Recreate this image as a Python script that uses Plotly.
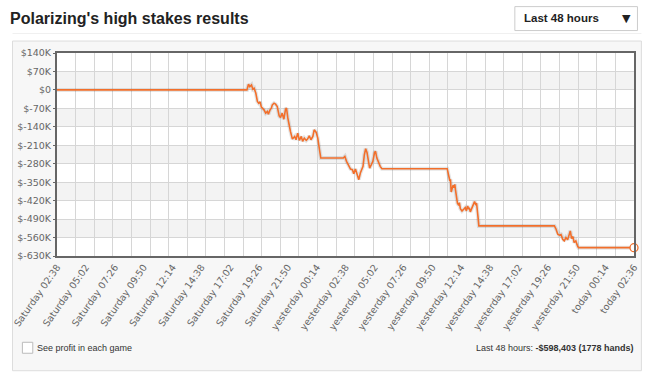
import plotly.graph_objects as go

# ---------------- data ----------------
hours = [0, 15.79, 15.92, 16.03, 16.17, 16.28, 16.39, 16.53, 16.66, 16.77, 16.88, 16.99,
         17.21, 17.35, 17.49, 17.57, 17.71, 17.82, 17.90, 18.04, 18.17, 18.31, 18.47,
         18.58, 18.72, 18.86, 19.00, 19.08, 19.19, 19.30, 19.41, 19.57, 19.76, 19.87,
         20.01, 20.15, 20.31, 20.42, 20.56, 20.72, 20.83, 20.97, 21.11, 21.27, 21.38,
         21.55, 21.68, 21.82, 21.93, 23.80, 23.93, 24.07, 24.26, 24.40, 24.56, 24.67,
         24.81, 24.95, 25.09, 25.22, 25.36, 25.44, 25.55, 25.66, 25.77, 25.88, 25.99,
         26.13, 26.26, 26.40, 26.48, 26.59, 26.73, 26.87, 27.01, 32.44, 32.57, 32.66,
         32.71, 32.77, 32.85, 32.93, 33.01, 33.07, 33.12, 33.20, 33.29, 33.40, 33.45,
         33.53, 33.67, 33.81, 33.94, 34.03, 34.14, 34.22, 34.27, 34.36, 34.44, 34.55,
         34.63, 34.71, 34.80, 34.88, 34.99, 35.07, 41.35, 41.49, 41.63, 41.76, 41.90,
         42.04, 42.17, 42.31, 42.45, 42.59, 42.67, 42.78, 42.89, 42.99, 43.13, 43.27,
         43.35, 47.967]
profit_k = [0, 0, 21.5, 12.6, 19, 2.6, 6.3, -12.6, -44, -50.4, -45.4, -65.5,
            -75.6, -88.2, -82, -92, -75.6, -69.3, -56.7, -50.4, -54.2, -63, -98.3,
            -104.6, -88.2, -111, -73, -69.3, -107, -138.7, -157.6, -186.6, -176.5, -189,
            -164, -191.6, -176.5, -195.4, -182.8, -191.6, -186.6, -174, -189, -176.5, -151.3,
            -161.4, -182.8, -227, -258.5, -258.5, -252.2, -271, -290, -300, -302.6, -317.7,
            -300, -321.5, -340.4, -315, -296.3, -290, -246, -223.2, -237, -271, -296.3,
            -283.7, -271, -237, -233.3, -258.5, -277.4, -290, -298.8, -298.8, -326.6, -345.5,
            -339.2, -387.1, -374.5, -361.9, -370.7, -358.1, -377, -402.3, -430, -437.6, -427.5,
            -450.2, -459, -452.7, -446.4, -459, -440.1, -452.7, -446.4, -462.8, -452.7, -440.1,
            -427.5, -423.7, -433.8, -430, -478, -515.8, -515.8, -528.4, -547.3, -551.1, -548.6,
            -566.3, -572.6, -560, -568.8, -547.3, -534.7, -563.7, -556.2, -578.9, -572.6, -591.5,
            -598.4, -598.4]
profit = [v * 1000 for v in profit_k]

x_tick_hours = [0, 2.4, 4.8, 7.2, 9.6, 12.0, 14.4, 16.8, 19.2, 21.6, 24.0, 26.4, 28.8,
                31.2, 33.6, 36.0, 38.4, 40.8, 43.2, 45.6, 47.967]
x_tick_text = ["Saturday 02:38", "Saturday 05:02", "Saturday 07:26", "Saturday 09:50",
               "Saturday 12:14", "Saturday 14:38", "Saturday 17:02", "Saturday 19:26",
               "Saturday 21:50", "yesterday 00:14", "yesterday 02:38", "yesterday 05:02",
               "yesterday 07:26", "yesterday 09:50", "yesterday 12:14", "yesterday 14:38",
               "yesterday 17:02", "yesterday 19:26", "yesterday 21:50", "today 00:14",
               "today 02:36"]
y_ticks = [140000 - 70000 * i for i in range(12)]
y_tick_text = ["$%dK" % (v // 1000) if v != 0 else "$0" for v in y_ticks]

total_profit = -598403
hands = 1778
title_text = "Polarizing's high stakes results"
period = "Last 48 hours"

# ---------------- layout geometry ----------------
W, H = 652, 373
L, R, T, B = 54, 14.5, 52.5, 117
PW, PH = W - L - R, H - T - B


def px(x):
    return (x - L) / PW


def py(y):
    return (H - B - y) / PH


ORANGE = "#f26f2b"
GRID = "#d6d6d6"

fig = go.Figure()
fig.add_trace(go.Scatter(x=hours, y=profit, mode="lines",
                         line=dict(color="rgba(0,0,0,0.10)", width=4),
                         hoverinfo="skip", showlegend=False))
fig.add_trace(go.Scatter(x=hours, y=profit, mode="lines",
                         line=dict(color=ORANGE, width=1.6),
                         showlegend=False))
fig.add_trace(go.Scatter(x=[hours[-1]], y=[profit[-1]], mode="markers",
                         marker=dict(size=8, color="white",
                                     line=dict(color=ORANGE, width=1.3)),
                         showlegend=False, cliponaxis=False))

shapes = []
# outer panel
shapes.append(dict(type="rect", xref="paper", yref="paper", layer="below",
                   x0=px(9), x1=px(645), y0=py(371), y1=py(40.5),
                   fillcolor="#f7f7f7", line=dict(color="#dddddd", width=1)))
# header separator
shapes.append(dict(type="line", xref="paper", yref="paper", layer="below",
                   x0=px(9), x1=px(645), y0=py(33), y1=py(33),
                   line=dict(color="#f0f0f0", width=1)))
# plot area white
shapes.append(dict(type="rect", xref="paper", yref="paper", layer="below",
                   x0=0, x1=1, y0=0, y1=1, fillcolor="white", line=dict(width=0)))
# alternate bands
for i in range(len(y_ticks) - 1):
    if i % 2 == 1:
        shapes.append(dict(type="rect", xref="paper", yref="y", layer="below",
                           x0=0, x1=1, y0=y_ticks[i + 1], y1=y_ticks[i],
                           fillcolor="#f3f3f3", line=dict(width=0)))
# dropdown box
shapes.append(dict(type="rect", xref="paper", yref="paper",
                   x0=px(517), x1=px(641), y0=py(30), y1=py(6),
                   fillcolor="white", line=dict(color="#cccccc", width=1)))
# checkbox
shapes.append(dict(type="rect", xref="paper", yref="paper",
                   x0=px(19), x1=px(29.5), y0=py(353.5), y1=py(342.5),
                   fillcolor="white", line=dict(color="#bbbbbb", width=1)))

annotations = [
    dict(text="<b>%s</b>" % title_text, xref="paper", yref="paper",
         x=px(4), y=py(18), xanchor="left", yanchor="middle", showarrow=False,
         font=dict(family="Liberation Sans, Arial", size=16, color="#222")),
    dict(text="<b>%s</b>" % period, xref="paper", yref="paper",
         x=px(524), y=py(17.5), xanchor="left", yanchor="middle", showarrow=False,
         font=dict(family="Liberation Sans, Arial", size=11.5, color="#222")),
    dict(text="▼", xref="paper", yref="paper",
         x=px(630), y=py(17.5), xanchor="center", yanchor="middle", showarrow=False,
         font=dict(family="DejaVu Sans", size=11, color="#222")),
    dict(text="See profit in each game", xref="paper", yref="paper",
         x=px(32), y=py(348), xanchor="left", yanchor="middle", showarrow=False,
         font=dict(family="Liberation Sans, Arial", size=9, color="#333")),
    dict(text="%s: <b>-$%s (%d hands)</b>" % (period, format(abs(total_profit), ","), hands),
         xref="paper", yref="paper",
         x=px(640), y=py(348), xanchor="right", yanchor="middle", showarrow=False,
         font=dict(family="Liberation Sans, Arial", size=9, color="#333")),
]

fig.update_layout(
    width=W, height=H,
    margin=dict(l=L, r=R, t=T, b=B, pad=0),
    paper_bgcolor="white", plot_bgcolor="rgba(0,0,0,0)",
    shapes=shapes, annotations=annotations, showlegend=False,
    xaxis=dict(range=[0, hours[-1]], tickmode="array", tickvals=x_tick_hours,
               ticktext=x_tick_text, tickangle=-55, showgrid=False, zeroline=False,
               showline=True, mirror=True, linecolor="#666666", linewidth=2,
               ticks="", tickfont=dict(family="DejaVu Sans", size=9.5, color="#666"),
               minor=dict(tick0=0, dtick=hours[-1] / 31, showgrid=True,
                          gridcolor=GRID, gridwidth=1, ticks="")),
    yaxis=dict(range=[y_ticks[-1], y_ticks[0]], tickmode="array", tickvals=y_ticks,
               ticktext=y_tick_text, showgrid=True, gridcolor=GRID, gridwidth=1,
               zeroline=False, showline=True, mirror=True, linecolor="#666666",
               linewidth=2, ticks="outside", ticklen=2, tickcolor="#666666",
               tickfont=dict(family="DejaVu Sans", size=9.5, color="#666")),
)

fig.write_html("out.html")
